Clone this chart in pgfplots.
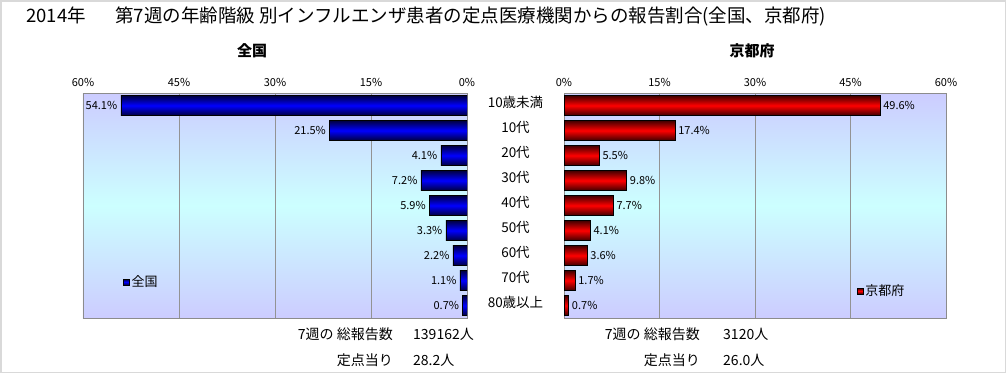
\documentclass[border=0pt]{standalone}
\usepackage{pgfplots}
\pgfplotsset{compat=1.18}
\usepackage{fontspec}
\setmainfont{Noto Sans CJK JP}
\definecolor{bgedge}{HTML}{CCCCFF}
\definecolor{bgmid}{HTML}{CCFFFF}
\definecolor{bluedark}{HTML}{000040}
\definecolor{barblue}{HTML}{0000FF}
\definecolor{reddark}{HTML}{400000}
\definecolor{barred}{HTML}{FF0000}
\pgfplotsset{
  common/.style={
    scale only axis, height=225pt,
    ymin=-0.5, ymax=8.5, ytick={0,...,8},
    xmin=0, xmax=60, xtick={0,15,30,45,60},
    xticklabel pos=upper,
    xticklabel={\pgfmathprintnumber{\tick}\%},
    /pgf/number format/assume math mode=true,
    xmajorgrids, major grid style={draw=gray!85, line width=0.8pt},
    axis line style={draw=gray!90, line width=0.8pt},
    major tick length=0pt,
    x tick label style={font=\fontsize{11}{12}\selectfont, yshift=3pt},
    axis background/.style={top color=bgedge, bottom color=bgedge, middle color=bgmid},
    xbar, bar width=20pt,
    point meta=x,
    nodes near coords={\pgfmathprintnumber[fixed,fixed zerofill,precision=1]{\pgfplotspointmeta}\%},
    every node near coord/.append style={font=\fontsize{11}{12}\selectfont, text=black},
    legend style={draw=none, fill=none, inner sep=0pt, font=\fontsize{13}{14}\selectfont},
    legend cell align=left,
  },
  barL/.style={draw=black, top color=bluedark, bottom color=bluedark, middle color=barblue, bar shift=0pt},
  barR/.style={draw=black, top color=reddark, bottom color=reddark, middle color=barred, bar shift=0pt},
}
\begin{document}
\begin{tikzpicture}[x=1pt,y=1pt]
\path[use as bounding box] (0,0) rectangle (1006,-373);
\draw[gray!30, line width=1.5pt] (0.75,-0.75) rectangle (1005.25,-372.25);
\node[anchor=west, font=\fontsize{18.5}{20}\selectfont, inner sep=0pt] at (26,-16) {2014年\hspace{1.6em}第7週の年齢階級 別インフルエンザ患者の定点医療機関からの報告割合(全国、京都府)};
\node[font=\fontsize{15}{16}\selectfont\bfseries] at (252,-51) {全国};
\node[font=\fontsize{15}{16}\selectfont\bfseries] at (752,-51) {京都府};

\begin{axis}[common, at={(83pt,-93pt)}, anchor=north west, width=384pt,
  x dir=reverse, yticklabels={},
  every node near coord/.append style={anchor=east},
  legend style={at={(axis cs:53.75,0.94)}, anchor=west},
  legend image code/.code={\draw[fill=barblue, draw=black] (0pt,-3pt) rectangle (6pt,3pt);}]
\addplot[barL] coordinates {(54.1,8)};
\addlegendentry{全国}
\addplot[barL, forget plot] coordinates {(21.5,7)};
\addplot[barL, forget plot] coordinates {(4.1,6)};
\addplot[barL, forget plot] coordinates {(7.2,5)};
\addplot[barL, forget plot] coordinates {(5.9,4)};
\addplot[barL, forget plot] coordinates {(3.3,3)};
\addplot[barL, forget plot] coordinates {(2.2,2)};
\addplot[barL, forget plot] coordinates {(1.1,1)};
\addplot[barL, forget plot] coordinates {(0.7,0)};
\end{axis}

\begin{axis}[common, at={(564pt,-93pt)}, anchor=north west, width=382pt,
  yticklabels={80歳以上,70代,60代,50代,40代,30代,20代,10代,10歳未満},
  y tick label style={font=\fontsize{13.5}{14}\selectfont, anchor=center, xshift=-48.5pt, yshift=3pt},
  every node near coord/.append style={anchor=west},
  legend style={at={(axis cs:46.0,0.58)}, anchor=west},
  legend image code/.code={\draw[fill=barred, draw=black] (0pt,-3pt) rectangle (6pt,3pt);}]
\addplot[barR] coordinates {(49.6,8)};
\addlegendentry{京都府}
\addplot[barR, forget plot] coordinates {(17.4,7)};
\addplot[barR, forget plot] coordinates {(5.5,6)};
\addplot[barR, forget plot] coordinates {(9.8,5)};
\addplot[barR, forget plot] coordinates {(7.7,4)};
\addplot[barR, forget plot] coordinates {(4.1,3)};
\addplot[barR, forget plot] coordinates {(3.6,2)};
\addplot[barR, forget plot] coordinates {(1.7,1)};
\addplot[barR, forget plot] coordinates {(0.7,0)};
\end{axis}

\begin{scope}[every node/.style={font=\fontsize{14}{15}\selectfont, inner sep=0pt}]
\node[anchor=east] at (393,-334) {7週の 総報告数};
\node[anchor=west] at (413,-334) {139162人};
\node[anchor=east] at (393,-360) {定点当り};
\node[anchor=west] at (413,-360) {28.2人};
\node[anchor=east] at (700,-334) {7週の 総報告数};
\node[anchor=west] at (723,-334) {3120人};
\node[anchor=east] at (700,-360) {定点当り};
\node[anchor=west] at (723,-360) {26.0人};
\end{scope}
\end{tikzpicture}
\end{document}
